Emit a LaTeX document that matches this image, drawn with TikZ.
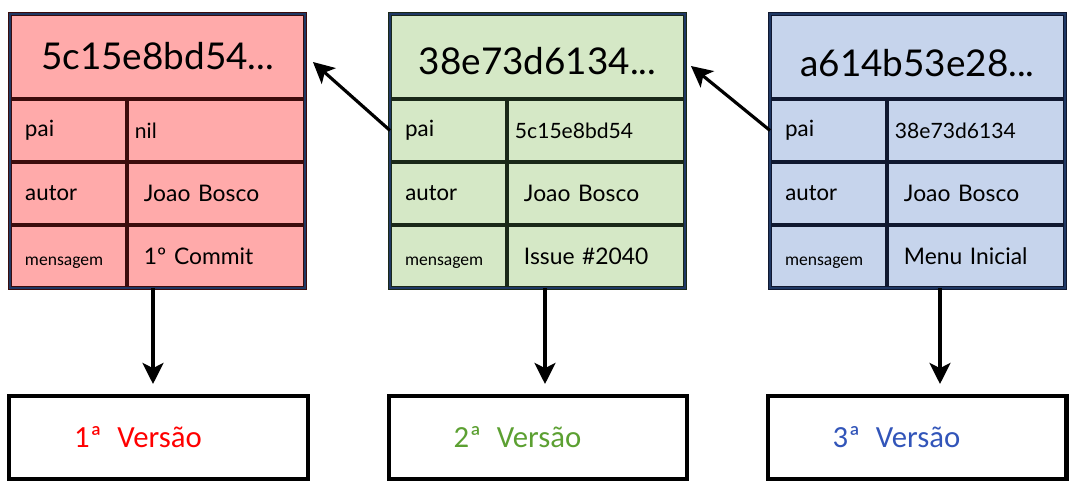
\documentclass[tikz,border=0pt]{standalone}
\usepackage{fontspec}
\setmainfont{Carlito}
\newfontfamily\hashfont{Lato}
\definecolor{pinkfill}{RGB}{255,170,170}
\definecolor{pinkline}{RGB}{60,12,12}
\definecolor{greenfill}{RGB}{213,232,198}
\definecolor{greenline}{RGB}{26,40,24}
\definecolor{bluefill}{RGB}{198,212,236}
\definecolor{blueline}{RGB}{16,24,48}
\definecolor{frameblue}{RGB}{31,56,100}
\definecolor{vergreen}{RGB}{92,160,50}
\definecolor{verblue}{RGB}{50,85,185}
\usetikzlibrary{arrows.meta, positioning}

\begin{document}
\begin{tikzpicture}[x=0.02cm, y=-0.02cm,
  hashcell/.style={minimum width=5.9cm, minimum height=1.7cm, line width=1.8pt, inner sep=0pt, outer sep=0pt, font=\hashfont\fontsize{21}{24}\selectfont},
  keycell/.style={minimum width=2.34cm, minimum height=1.26cm, line width=1.8pt, inner xsep=0.3cm, inner ysep=0pt, outer sep=0pt, text width=1.74cm, align=left, font=\fontsize{13.5}{15}\selectfont},
  msgcell/.style={font=\fontsize{10}{12}\selectfont, text height=10pt, text depth=0pt},
  valcell/.style={minimum width=3.56cm, minimum height=1.26cm, line width=1.8pt, inner xsep=0.34cm, inner ysep=0pt, outer sep=0pt, text width=2.88cm, align=left, font=\hashfont\fontsize{13}{15}\selectfont},
  firstval/.style={inner xsep=0.16cm, text width=3.24cm, font=\hashfont\fontsize{12}{14}\selectfont},
  verbox/.style={draw, line width=2.3pt, minimum width=5.98cm, minimum height=1.66cm, inner xsep=1.3cm, text width=3.38cm, align=left, font=\fontsize{17.5}{20}\selectfont},
  arr/.style={-{Stealth[length=12pt, width=12pt, inset=3pt]}, line width=1.8pt}]
  \useasboundingbox (0,0) rectangle (1086,496);

  % Commit 1
  \node[hashcell, fill=pinkfill, draw=pinkline, anchor=north west] (hashA) at (10,14) {5c15e8bd54...};
  \node[keycell, fill=pinkfill, draw=pinkline, below right=0pt of hashA.south west] (paiA) {pai};
  \node[valcell, firstval, fill=pinkfill, draw=pinkline, right=0pt of paiA] (paiValA) {nil};
  \node[keycell, fill=pinkfill, draw=pinkline, below=0pt of paiA] (autorA) {autor};
  \node[valcell, fill=pinkfill, draw=pinkline, right=0pt of autorA] (autorValA) {Joao Bosco};
  \node[keycell, msgcell, fill=pinkfill, draw=pinkline, below=0pt of autorA] (msgA) {mensagem};
  \node[valcell, fill=pinkfill, draw=pinkline, right=0pt of msgA] (msgValA) {1º\ Commit};
  \draw[frameblue, line width=0.8pt] (hashA.north west) rectangle (msgValA.south east);

  % Commit 2
  \node[hashcell, fill=greenfill, draw=greenline, anchor=north west, text height=20.5pt, text depth=0pt] (hashB) at (390,14) {38e73d6134...};
  \node[keycell, fill=greenfill, draw=greenline, below right=0pt of hashB.south west] (paiB) {pai};
  \node[valcell, firstval, fill=greenfill, draw=greenline, right=0pt of paiB] (paiValB) {5c15e8bd54};
  \node[keycell, fill=greenfill, draw=greenline, below=0pt of paiB] (autorB) {autor};
  \node[valcell, fill=greenfill, draw=greenline, right=0pt of autorB] (autorValB) {Joao Bosco};
  \node[keycell, msgcell, fill=greenfill, draw=greenline, below=0pt of autorB] (msgB) {mensagem};
  \node[valcell, fill=greenfill, draw=greenline, right=0pt of msgB] (msgValB) {Issue \#2040};
  \draw[frameblue, line width=0.8pt] (hashB.north west) rectangle (msgValB.south east);

  % Commit 3
  \node[hashcell, fill=bluefill, draw=blueline, anchor=north west, text height=23pt, text depth=0pt] (hashC) at (770,14) {a614b53e28...};
  \node[keycell, fill=bluefill, draw=blueline, below right=0pt of hashC.south west] (paiC) {pai};
  \node[valcell, firstval, fill=bluefill, draw=blueline, right=0pt of paiC] (paiValC) {38e73d6134};
  \node[keycell, fill=bluefill, draw=blueline, below=0pt of paiC] (autorC) {autor};
  \node[valcell, fill=bluefill, draw=blueline, right=0pt of autorC] (autorValC) {Joao Bosco};
  \node[keycell, msgcell, fill=bluefill, draw=blueline, below=0pt of autorC] (msgC) {mensagem};
  \node[valcell, fill=bluefill, draw=blueline, right=0pt of msgC] (msgValC) {Menu Inicial};
  \draw[frameblue, line width=0.8pt] (hashC.north west) rectangle (msgValC.south east);

  % Versions
  \node[verbox, text=red] (verA) at (158.5,437.5) {1ª\ \,Versão};
  \node[verbox, text=vergreen] (verB) at (538,437.5) {2ª\ \,Versão};
  \node[verbox, text=verblue] (verC) at (917,437.5) {3ª\ \,Versão};

  % Parent links
  \draw[arr] (paiB.west) -- ([xshift=0.16cm, yshift=-0.11cm]hashA.east);
  \draw[arr] (paiC.west) -- ([xshift=0.12cm, yshift=-0.19cm]hashB.east);

  % Snapshots
  \coordinate (tipA) at ([xshift=-0.11cm, yshift=0.2cm]verA.north);
  \coordinate (tipB) at ([xshift=0.14cm, yshift=0.2cm]verB.north);
  \coordinate (tipC) at ([xshift=0.46cm, yshift=0.2cm]verC.north);
  \draw[arr] (msgA.south -| tipA) -- (tipA);
  \draw[arr] (msgB.south -| tipB) -- (tipB);
  \draw[arr] (msgC.south -| tipC) -- (tipC);
\end{tikzpicture}
\end{document}
